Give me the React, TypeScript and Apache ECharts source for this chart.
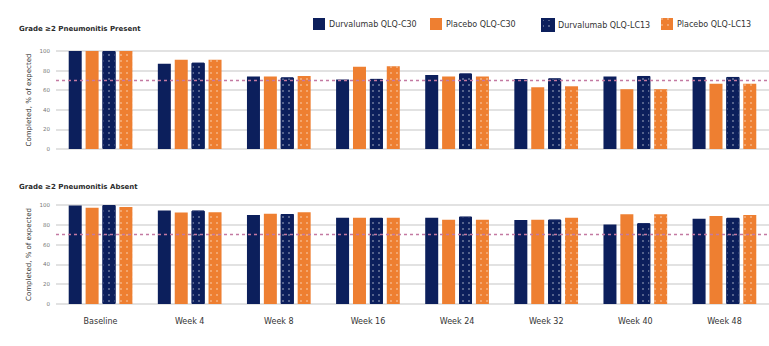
import React, { useEffect, useRef } from "react";
import * as echarts from "echarts";

const categories = ["Baseline", "Week 4", "Week 8", "Week 16", "Week 24", "Week 32", "Week 40", "Week 48"];
const seriesNames = ["Durvalumab QLQ-C30", "Placebo QLQ-C30", "Durvalumab QLQ-LC13", "Placebo QLQ-LC13"];
const panelTitles = ["Grade \u22652 Pneumonitis Present", "Grade \u22652 Pneumonitis Absent"];
const yTicks = [0, 20, 40, 60, 80, 100];
const referenceLine = 70;

// Present panel
const presentDurvaC30 = [100, 87, 74, 71, 75.5, 71.5, 74, 73.5];
const presentPlaceboC30 = [100, 91, 74, 84, 74, 63, 61, 66.5];
const presentDurvaLC13 = [100, 88, 73, 71.5, 77, 72, 74.5, 73.5];
const presentPlaceboLC13 = [100, 91, 74.5, 84.5, 74, 64, 61, 66.5];

// Absent panel
const absentDurvaC30 = [99.5, 94.5, 90, 87, 87.2, 84.8, 80.2, 86];
const absentPlaceboC30 = [97.3, 92.3, 91.2, 87, 85.2, 85.2, 90.6, 88.9];
const absentDurvaLC13 = [100, 94.3, 90.9, 87, 88.2, 85.2, 81.5, 87];
const absentPlaceboLC13 = [98, 92.6, 92.6, 87, 85.2, 87.2, 90.6, 89.9];

const NAVY = "#0c1f5c";
const ORANGE = "#ee7f31";
const FONT = "DejaVu Sans, Verdana, sans-serif";

export default function App() {
  const ref = useRef<HTMLDivElement>(null);
  useEffect(() => {
    if (!ref.current) return;
    const chart = echarts.init(ref.current, null, { renderer: "svg" });
    const colors = [NAVY, ORANGE, NAVY, ORANGE];
    const decal = {
      symbol: "rect",
      symbolSize: 1,
      color: "rgba(255,255,255,0.3)",
      dashArrayX: [1.3, 3.2],
      dashArrayY: [1.3, 4],
      rotation: 0,
    };
    const panels = [
      [presentDurvaC30, presentPlaceboC30, presentDurvaLC13, presentPlaceboLC13],
      [absentDurvaC30, absentPlaceboC30, absentDurvaLC13, absentPlaceboLC13],
    ];
    const series: any[] = [];
    panels.forEach((panel, p) => {
      panel.forEach((data, i) => {
        series.push({
          name: seriesNames[i],
          type: "bar",
          xAxisIndex: p,
          yAxisIndex: p,
          data,
          barWidth: 13,
          barGap: "30%",
          itemStyle: {
            color: colors[i],
            decal: i >= 2 ? decal : undefined,
            borderColor: i === 2 ? NAVY : undefined,
            borderWidth: i === 2 ? 1 : 0,
          },
          markLine:
            i === 0
              ? {
                  silent: true,
                  symbol: "none",
                  label: { show: false },
                  lineStyle: { color: "#c47aa2", type: [3, 3], width: 1.3 },
                  data: [{ yAxis: referenceLine }],
                }
              : undefined,
        });
      });
    });
    const legendLefts = [313, 430, 541, 661];
    chart.setOption({
      animation: false,
      textStyle: { fontFamily: FONT },
      title: panelTitles.map((t, i) => ({
        text: t,
        left: 19,
        top: i === 0 ? 25 : 183,
        padding: 0,
        textStyle: { fontSize: 7, fontWeight: "bold", color: "#2b2b2b", fontFamily: FONT },
      })),
      legend: seriesNames.map((n, i) => ({
        data: [n],
        left: legendLefts[i],
        top: 18,
        padding: 0,
        icon: "rect",
        itemWidth: 12,
        itemHeight: 12,
        textStyle: { fontSize: 8, color: "#333", fontFamily: FONT, padding: [0, 0, 0, -1] },
      })),
      grid: [
        { left: 56, right: 0, top: 51, height: 98 },
        { left: 56, right: 0, top: 205, height: 99 },
      ],
      xAxis: [0, 1].map((i) => ({
        type: "category",
        gridIndex: i,
        data: categories,
        axisLine: { show: false },
        axisTick: { show: false },
        axisLabel: { show: i === 1, fontSize: 8, color: "#333", margin: 13 },
      })),
      yAxis: [0, 1].map((i) => ({
        type: "value",
        gridIndex: i,
        min: yTicks[0],
        max: yTicks[yTicks.length - 1],
        interval: 20,
        name: "Completed, % of expected",
        nameLocation: "middle",
        nameGap: 24,
        nameMoveOverlap: false,
        nameTextStyle: { fontSize: 7, color: "#333" },
        axisLabel: { fontSize: 5.5, color: "#777", margin: 6 },
        axisLine: { show: false },
        axisTick: { show: false },
        splitLine: { lineStyle: { color: "#d9d9d9", width: 1.5 } },
      })),
      series,
    });
    return () => chart.dispose();
  }, []);
  return <div ref={ref} style={{ width: 769, height: 346, position: "absolute", left: 0, top: 0 }} />;
}
